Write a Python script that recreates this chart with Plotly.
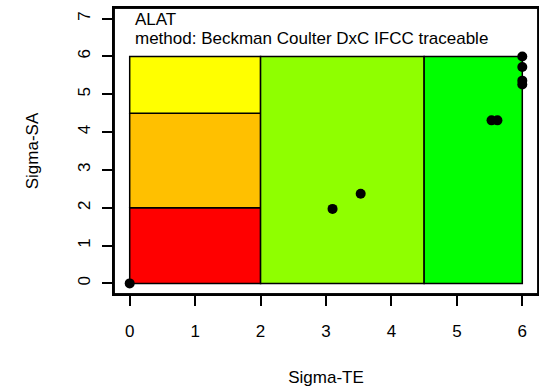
import plotly.graph_objects as go

# Data
sigma_te = [0.0, 3.10, 3.53, 5.53, 5.62, 6.0, 6.0, 6.0, 6.0]
sigma_sa = [0.0, 1.97, 2.37, 4.31, 4.31, 6.0, 5.72, 5.36, 5.26]

zone_x0 = [0, 0, 0, 2, 4.5]
zone_x1 = [2, 2, 2, 4.5, 6]
zone_y0 = [0, 2, 4.5, 0, 0]
zone_y1 = [2, 4.5, 6, 6, 6]
zone_colors = ["#FF0000", "#FFC000", "#FFFF00", "#8FFF00", "#00FF00"]

x_ticks = [0, 1, 2, 3, 4, 5, 6]
y_ticks = [0, 1, 2, 3, 4, 5, 6, 7]
x_range = [-0.24, 6.24]
y_range = [-0.28, 7.28]

title_lines = ["ALAT", "method: Beckman Coulter DxC IFCC traceable"]

font = dict(family="Liberation Sans, Arial, sans-serif", size=17, color="black")

fig = go.Figure()

shapes = []
for x0, x1, y0, y1, c in zip(zone_x0, zone_x1, zone_y0, zone_y1, zone_colors):
    shapes.append(dict(type="rect", xref="x", yref="y", x0=x0, x1=x1, y0=y0, y1=y1,
                       fillcolor=c, line=dict(color="black", width=1.5), layer="below"))
shapes.append(dict(type="rect", xref="paper", yref="paper", x0=0, x1=1, y0=0, y1=1,
                   line=dict(color="black", width=1.5), fillcolor="rgba(0,0,0,0)",
                   layer="above"))

# frame around the plotting region, following the axis ranges
fig.add_trace(go.Scatter(
    x=[x_range[0], x_range[1], x_range[1], x_range[0], x_range[0]],
    y=[y_range[0], y_range[0], y_range[1], y_range[1], y_range[0]],
    mode="lines", line=dict(color="black", width=1.5), hoverinfo="skip",
    showlegend=False, cliponaxis=False))

fig.add_trace(go.Scatter(x=sigma_te, y=sigma_sa, mode="markers",
                         marker=dict(color="black", size=10), showlegend=False,
                         cliponaxis=False))

fig.add_annotation(x=0.05, y=6.98, xref="x", yref="y", text=title_lines[0],
                   showarrow=False, xanchor="left", yanchor="middle", font=font)
fig.add_annotation(x=0.05, y=6.48, xref="x", yref="y", text=title_lines[1],
                   showarrow=False, xanchor="left", yanchor="middle", font=font)

fig.update_layout(
    width=539, height=391,
    margin=dict(l=114, r=1, t=8, b=97),
    paper_bgcolor="white", plot_bgcolor="white",
    shapes=shapes,
    font=font,
    xaxis=dict(range=x_range, tickvals=x_ticks, ticks="outside", ticklen=10,
               tickwidth=1.5, tickcolor="black", showgrid=False, zeroline=False,
               showline=True, mirror=True, linecolor="black", linewidth=1.5,
               automargin=False, ticklabelstandoff=11, tickfont=font,
               title=dict(text="Sigma-TE", standoff=31, font=font)),
    yaxis=dict(range=y_range, tickvals=y_ticks, ticks="outside", ticklen=10,
               tickwidth=1.5, tickcolor="black", showgrid=False, zeroline=False,
               showline=True, mirror=True, linecolor="black", linewidth=1.5,
               automargin=False, tickangle=-90, ticklabelstandoff=5, tickfont=font,
               title=dict(text="Sigma-SA", standoff=33, font=font)),
)

fig.write_html("out.html")
